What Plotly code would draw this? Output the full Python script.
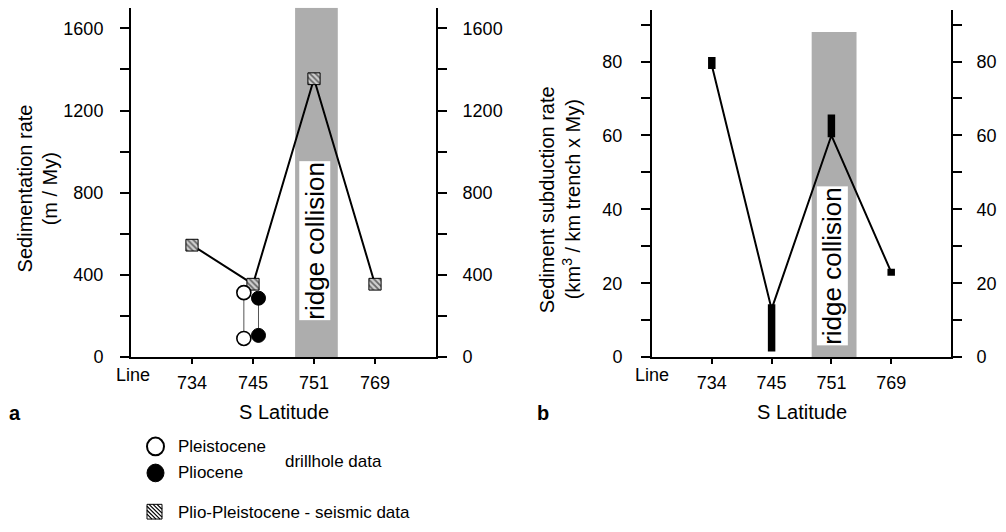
import plotly.graph_objects as go

# ---------------- data ----------------
categories = ['734', '745', '751', '769']          # S latitude lines
cat_pos = [1, 2, 3, 4]
seismic_rate = [545, 355, 1355, 355]               # Plio-Pleistocene seismic (m/My)
pleistocene_rate = [314, 91]                       # drillhole data at line 745
pliocene_rate = [287, 106]
drill_line = '745'
subduction_line = [79, 13, 60, 23]                 # km3 / km trench x My
subduction_low = [78, 1.5, 59.5, 22]
subduction_high = [81.2, 14.3, 65.7, 23.9]
ytick_a = [0, 200, 400, 600, 800, 1000, 1200, 1400, 1600]
ytick_b = [0, 10, 20, 30, 40, 50, 60, 70, 80, 90]

# ---------------- layout helpers ----------------
W, H = 1006, 532
def px(x): return x / W
def py(y): return 1 - y / H

FONT = 'Liberation Sans, Arial, Helvetica, sans-serif'
ya_range = [0, 1700]
yb_range = [0, 94]
dom_xa = [px(131), px(436)]
dom_xb = [px(652), px(951)]
dom_ya = [py(364), py(8)]
dom_yb = [py(364), py(10)]

fig = go.Figure()

# Panel a: seismic trend line (base axis, drawn below markers)
fig.add_trace(go.Scatter(x=cat_pos, y=seismic_rate, mode='lines',
                         line=dict(color='black', width=2),
                         xaxis='x', yaxis='y', showlegend=False, hoverinfo='skip'))
# hatched squares (overlay axis -> drawn on top)
sq_h = 12 * (ya_range[1] - ya_range[0]) / (364 - 8)
fig.add_trace(go.Bar(x=cat_pos, y=[sq_h] * len(seismic_rate),
                     base=[v - sq_h / 2 for v in seismic_rate], width=0.2,
                     marker=dict(color='white',
                                 pattern=dict(shape='\\', fgcolor='black', bgcolor='#d0d0d0',
                                              size=4, solidity=0.45),
                                 line=dict(color='black', width=1)),
                     xaxis='x', yaxis='y2', showlegend=False, hoverinfo='skip'))
xi = cat_pos[categories.index(drill_line)]
fig.add_trace(go.Scatter(x=[xi - 0.15] * 2, y=pleistocene_rate, mode='lines+markers',
                         line=dict(color='#555', width=1),
                         marker=dict(symbol='circle', size=14, color='white',
                                     line=dict(color='black', width=1.6)),
                         xaxis='x', yaxis='y2', showlegend=False, hoverinfo='skip'))
fig.add_trace(go.Scatter(x=[xi + 0.09] * 2, y=pliocene_rate, mode='lines+markers',
                         line=dict(color='#555', width=1),
                         marker=dict(symbol='circle', size=14, color='black',
                                     line=dict(color='black', width=1)),
                         xaxis='x', yaxis='y2', showlegend=False, hoverinfo='skip'))

# Panel b
fig.add_trace(go.Scatter(x=cat_pos, y=subduction_line, mode='lines',
                         line=dict(color='black', width=2),
                         xaxis='x2', yaxis='y3', showlegend=False, hoverinfo='skip'))
fig.add_trace(go.Bar(x=cat_pos, y=[h - l for h, l in zip(subduction_high, subduction_low)],
                     base=subduction_low, width=0.125,
                     marker=dict(color='black', line=dict(width=0)),
                     xaxis='x2', yaxis='y4', showlegend=False, hoverinfo='skip'))

axis_common = dict(showline=True, linecolor='black', linewidth=2, ticks='outside',
                   tickcolor='black', tickwidth=1.5, showgrid=False, zeroline=False,
                   tickfont=dict(size=18, color='black', family=FONT))

def lab(vals, step):
    return [str(v) if v % step == 0 else ' ' for v in vals]

fig.update_layout(
    width=W, height=H, margin=dict(l=0, r=0, t=0, b=0),
    paper_bgcolor='white', plot_bgcolor='white', barmode='overlay',
    font=dict(family=FONT, color='black'),
    xaxis=dict(domain=dom_xa, range=[0, 5], anchor='y', tickvals=cat_pos, ticktext=categories,
               ticklen=5, ticklabelstandoff=3, **axis_common),
    yaxis=dict(domain=dom_ya, range=ya_range, anchor='x', tickvals=ytick_a,
               ticktext=lab(ytick_a, 400), ticklen=9, ticklabelstandoff=13, **axis_common),
    yaxis2=dict(range=ya_range, overlaying='y', side='right', anchor='x', tickvals=ytick_a,
                ticktext=lab(ytick_a, 400), ticklen=9, ticklabelstandoff=12, **axis_common),
    xaxis2=dict(domain=dom_xb, range=[0, 5], anchor='y3', tickvals=cat_pos, ticktext=categories,
                ticklen=5, ticklabelstandoff=3, **axis_common),
    yaxis3=dict(domain=dom_yb, range=yb_range, anchor='x2', tickvals=ytick_b,
                ticktext=lab(ytick_b, 20), ticklen=9, ticklabelstandoff=15, **axis_common),
    yaxis4=dict(range=yb_range, overlaying='y3', side='right', anchor='x2', tickvals=ytick_b,
                ticktext=lab(ytick_b, 20), ticklen=9, ticklabelstandoff=11, **axis_common),
)

shapes = [
    dict(type='rect', xref='x', yref='y', x0=2.69, x1=3.39, y0=0, y1=ya_range[1],
         fillcolor='#adadad', line=dict(width=0), layer='below'),
    dict(type='rect', xref='x2', yref='y3', x0=2.67, x1=3.42, y0=0, y1=88,
         fillcolor='#adadad', line=dict(width=0), layer='below'),
    # legend icons
    dict(type='circle', xref='paper', yref='paper', x0=px(147), x1=px(164), y0=py(464), y1=py(446),
         fillcolor='white', line=dict(color='black', width=2)),
    dict(type='circle', xref='paper', yref='paper', x0=px(147), x1=px(164), y0=py(491), y1=py(473),
         fillcolor='black', line=dict(color='black', width=1)),
    dict(type='rect', xref='paper', yref='paper', x0=px(147), x1=px(162), y0=py(529), y1=py(514),
         fillcolor='white', line=dict(color='black', width=1)),
]
sx0, sx1, sy0, sy1 = 147, 162, 514, 529
for k in [-10, -6, -2, 2, 6, 10]:
    if k >= 0:
        a = (sx0 + k, sy0); b = (sx1, sy1 - k)
    else:
        a = (sx0, sy0 - k); b = (sx1 + k, sy1)
    shapes.append(dict(type='line', xref='paper', yref='paper', x0=px(a[0]), y0=py(a[1]),
                       x1=px(b[0]), y1=py(b[1]), line=dict(color='black', width=1.2)))
fig.update_layout(shapes=shapes)

ann = []
def T(x, y, text, size=18, xanchor='center', **kw):
    d = dict(xref='paper', yref='paper', x=px(x), y=py(y), text=text, showarrow=False,
             xanchor=xanchor, yanchor='middle',
             font=dict(size=size, color='black', family=FONT))
    d.update(kw)
    ann.append(d)

# ridge collision labels
for xr, yr, yv in [('x', 'y', 568), ('x2', 'y3', 24.6)]:
    ann.append(dict(xref=xr, yref=yr, x=3.02, y=yv, text='ridge collision', textangle=-90,
                    showarrow=False, bgcolor='white', borderpad=0,
                    xanchor='center', yanchor='middle',
                    font=dict(size=26, color='black', family=FONT)))
# "Line" labels
ann.append(dict(xref='x', yref='paper', x=0.03, y=py(382), text='Line', showarrow=False,
                xanchor='center', yanchor='middle',
                font=dict(size=18, color='black', family=FONT)))
ann.append(dict(xref='x2', yref='paper', x=0.0, y=py(382), text='Line', showarrow=False,
                xanchor='center', yanchor='middle',
                font=dict(size=18, color='black', family=FONT)))
T(283.5, 420, 'S Latitude', 20)
T(801.5, 420, 'S Latitude', 20)
T(15, 421, '<b>a</b>', 20)
T(543, 421, '<b>b</b>', 20)
T(25, 192, 'Sedimentation rate', 20, textangle=-90)
T(50, 193, '(m / My)', 20, textangle=-90)
T(547, 204, 'Sediment subduction rate', 20, textangle=-90)
T(571, 203, '(km<sup>3</sup> / km trench x My)', 20, textangle=-90)
T(176, 455, 'Pleistocene', 17, xanchor='left')
T(176, 482, 'Pliocene', 17, xanchor='left')
T(283, 470, 'drillhole data', 17, xanchor='left')
T(176, 522, 'Plio-Pleistocene - seismic data', 17, xanchor='left')
fig.update_layout(annotations=ann)

fig.write_html('out.html', config={'displayModeBar': False},
               post_script="document.body.style.margin='0';document.body.style.overflow='hidden';")
